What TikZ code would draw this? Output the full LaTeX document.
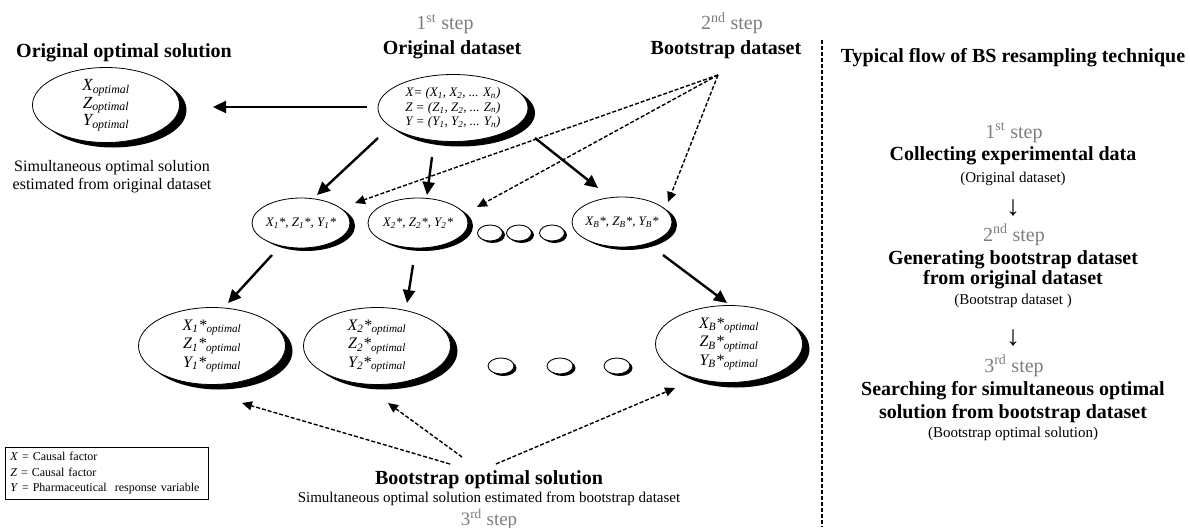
\documentclass[tikz,border=0pt]{standalone}
\usepackage{fontspec}
\setmainfont{Liberation Serif}
\usetikzlibrary{shapes.geometric,arrows.meta,shadows,calc}
\definecolor{stepgray}{RGB}{125,125,125}
\begin{document}
\begin{tikzpicture}[x=1pt,y=-1pt,
 ov/.style={ellipse,draw=black,line width=0.8pt,fill=white,inner sep=0pt,align=center,
   drop shadow={shadow xshift=7pt,shadow yshift=-5pt,fill=black,opacity=1}},
 ovs/.style={ellipse,draw=black,line width=0.8pt,fill=white,inner ysep=0pt,inner xsep=-2pt,align=center,
   drop shadow={shadow xshift=5pt,shadow yshift=-3pt,fill=black,opacity=1}},
 dot/.style={ellipse,draw=black,line width=0.9pt,fill=white,inner sep=0pt,minimum width=25pt,minimum height=16pt,
   drop shadow={shadow xshift=2.5pt,shadow yshift=-2pt,fill=black,opacity=1}},
 hd/.style={font=\bfseries\fontsize{20}{22}\selectfont,inner sep=0pt,anchor=base},
 stl/.style={text=stepgray,font=\fontsize{20}{22}\selectfont,inner sep=0pt,anchor=base},
 par/.style={font=\fontsize{15}{17}\selectfont,inner sep=0pt,anchor=base},
 txt/.style={font=\fontsize{16}{18}\selectfont,inner sep=0pt,anchor=base},
 dn/.style={font=\fontsize{28}{28}\selectfont,inner sep=0pt},
 sarr/.style={line width=2.4pt,-{Triangle[length=13pt,width=12pt]}},
 darr/.style={line width=1.4pt,dash pattern=on 4pt off 2pt,-{Triangle[length=10pt,width=9pt]}},
]
\useasboundingbox (0,0) rectangle (1190,527);

% ---------- headings ----------
\node[hd] (oosT) at (124,57) {Original optimal solution};
\node[stl] (st1) at (445,30) {1\textsuperscript{st} step};
\node[hd] (odT) at (452,55) {Original dataset};
\node[stl] (st2) at (732,30) {2\textsuperscript{nd} step};
\node[hd] (bdT) at (726,55) {Bootstrap dataset};
\coordinate (bd) at (718,75);

% ---------- top ellipses ----------
\node[ov,minimum width=147pt,minimum height=75pt,font=\itshape\fontsize{17}{17.5}\selectfont] (L) at (106,105)
  {X\textsubscript{optimal}\\Z\textsubscript{optimal}\\Y\textsubscript{optimal}};
\node[txt] (oosA) at (112,171) {Simultaneous optimal solution};
\node[txt] (oosB) at (112,189) {estimated from original dataset};

\node[ov,minimum width=150pt,minimum height=67pt,font=\itshape\fontsize{13}{14.5}\selectfont] (O) at (453,108)
  {X= (X\textsubscript{1}, X\textsubscript{2}, ... X\textsubscript{n})\\
   Z = (Z\textsubscript{1}, Z\textsubscript{2}, ... Z\textsubscript{n})\\
   Y = (Y\textsubscript{1}, Y\textsubscript{2}, ... Y\textsubscript{n})};

% ---------- row 1 ----------
\node[ovs,minimum width=98pt,minimum height=50pt,font=\itshape\fontsize{13}{15}\selectfont] (r1a) at (301,223)
  {X\textsubscript{1}*, Z\textsubscript{1}*, Y\textsubscript{1}*};
\node[ovs,minimum width=100pt,minimum height=50pt,font=\itshape\fontsize{13}{15}\selectfont] (r1b) at (418,223)
  {X\textsubscript{2}*, Z\textsubscript{2}*, Y\textsubscript{2}*};
\node[ovs,minimum width=100pt,minimum height=50pt,font=\itshape\fontsize{13}{15}\selectfont] (r1c) at (622,222)
  {X\textsubscript{B}*, Z\textsubscript{B}*, Y\textsubscript{B}*};
\node[dot] (d1a) at (490,233) {};
\node[dot] (d1b) at (519,233) {};
\node[dot] (d1c) at (552,233) {};

% ---------- row 2 ----------
\node[ov,minimum width=147pt,minimum height=77pt,font=\itshape\fontsize{16}{18.5}\selectfont] (r2a) at (212,346)
  {X\textsubscript{1}*\textsubscript{optimal}\\Z\textsubscript{1}*\textsubscript{optimal}\\Y\textsubscript{1}*\textsubscript{optimal}};
\node[ov,minimum width=147pt,minimum height=77pt,font=\itshape\fontsize{16}{18.5}\selectfont] (r2b) at (377,346)
  {X\textsubscript{2}*\textsubscript{optimal}\\Z\textsubscript{2}*\textsubscript{optimal}\\Y\textsubscript{2}*\textsubscript{optimal}};
\node[ov,minimum width=147pt,minimum height=77pt,font=\itshape\fontsize{16}{18.5}\selectfont] (r2c) at (729,344)
  {X\textsubscript{B}*\textsubscript{optimal}\\Z\textsubscript{B}*\textsubscript{optimal}\\Y\textsubscript{B}*\textsubscript{optimal}};
\node[dot,minimum width=26pt] (d2a) at (501,366) {};
\node[dot,minimum width=26pt] (d2b) at (560,366) {};
\node[dot,minimum width=26pt] (d2c) at (617,366) {};

% ---------- bottom ----------
\node[hd] (bos) at (489,484) {Bootstrap optimal solution};
\node[par] (bosA) at (489,502) {Simultaneous optimal solution estimated from bootstrap dataset};
\node[stl,font=\fontsize{19}{21}\selectfont] (st3) at (489,525) {3\textsuperscript{rd} step};
\coordinate (s1) at (450,464);
\coordinate (s2) at (462,457);
\coordinate (s3) at (496,464);

\node[draw,line width=0.6pt,anchor=north west,align=left,inner sep=5pt,text width=193pt,
      font=\fontsize{12}{15.5}\selectfont] (leg) at (5,447)
  {\textit{X} = Causal factor\\ \textit{Z} = Causal factor\\ \textit{Y} = Pharmaceutical\ \ response variable};

% ---------- connectors ----------
\draw[sarr] ($(O.center)+(-86,-1)$) -- ($(L.center)+(107,2)$);
\draw[sarr] ($(O.center)+(-75,30)$) -- ($(r1a.center)+(16,-28)$);
\draw[sarr] ($(O.center)+(-21,49)$) -- ($(r1b.center)+(9,-28)$);
\draw[sarr] ($(O.center)+(82,30)$) -- ($(r1c.center)+(-24,-34)$);
\draw[darr] (bd) -- ($(r1a.center)+(54,-20)$);
\draw[darr] (bd) -- ($(r1b.center)+(59,-16)$);
\draw[darr] (bd) -- ($(r1c.center)+(46,-20)$);
\draw[sarr] ($(r1a.center)+(-29,32)$) -- ($(r2a.center)+(16,-43)$);
\draw[sarr] ($(r1b.center)+(-5,42)$) -- ($(r2b.center)+(30,-43)$);
\draw[sarr] ($(r1c.center)+(41,33)$) -- ($(r2c.center)+(-2,-41)$);
\draw[darr] (s1) -- ($(r2a.center)+(30,57)$);
\draw[darr] (s2) -- ($(r2b.center)+(11,57)$);
\draw[darr] (s3) -- ($(r2c.center)+(-54,44)$);

% ---------- divider ----------
\coordinate (dvTop) at (822,40);
\coordinate (dvBot) at (822,527);
\draw[line width=1.5pt,dash pattern=on 4pt off 2pt] (dvTop) -- (dvBot);

% ---------- right column ----------
\node[hd] (rT) at (1013,63) {Typical flow of BS resampling technique};
\node[stl] (rs1) at (1014,138) {1\textsuperscript{st} step};
\node[hd] (rc1) at (1013,160) {Collecting experimental data};
\node[par] (rp1) at (1013,182) {(Original dataset)};
\node[dn] (ra1) at (1013,208) {↓};
\node[stl] (rs2) at (1014,241) {2\textsuperscript{nd} step};
\node[hd] (rc2) at (1013,264) {Generating bootstrap dataset};
\node[hd] (rc2b) at (1013,284) {from original dataset};
\node[par] (rp2) at (1013,304) {(Bootstrap dataset )};
\node[dn] (ra2) at (1013,338) {↓};
\node[stl] (rs3) at (1014,372) {3\textsuperscript{rd} step};
\node[hd] (rc3) at (1013,395) {Searching for simultaneous optimal};
\node[hd] (rc3b) at (1013,418) {solution from bootstrap dataset};
\node[par] (rp3) at (1013,437) {(Bootstrap optimal solution)};
\end{tikzpicture}
\end{document}
